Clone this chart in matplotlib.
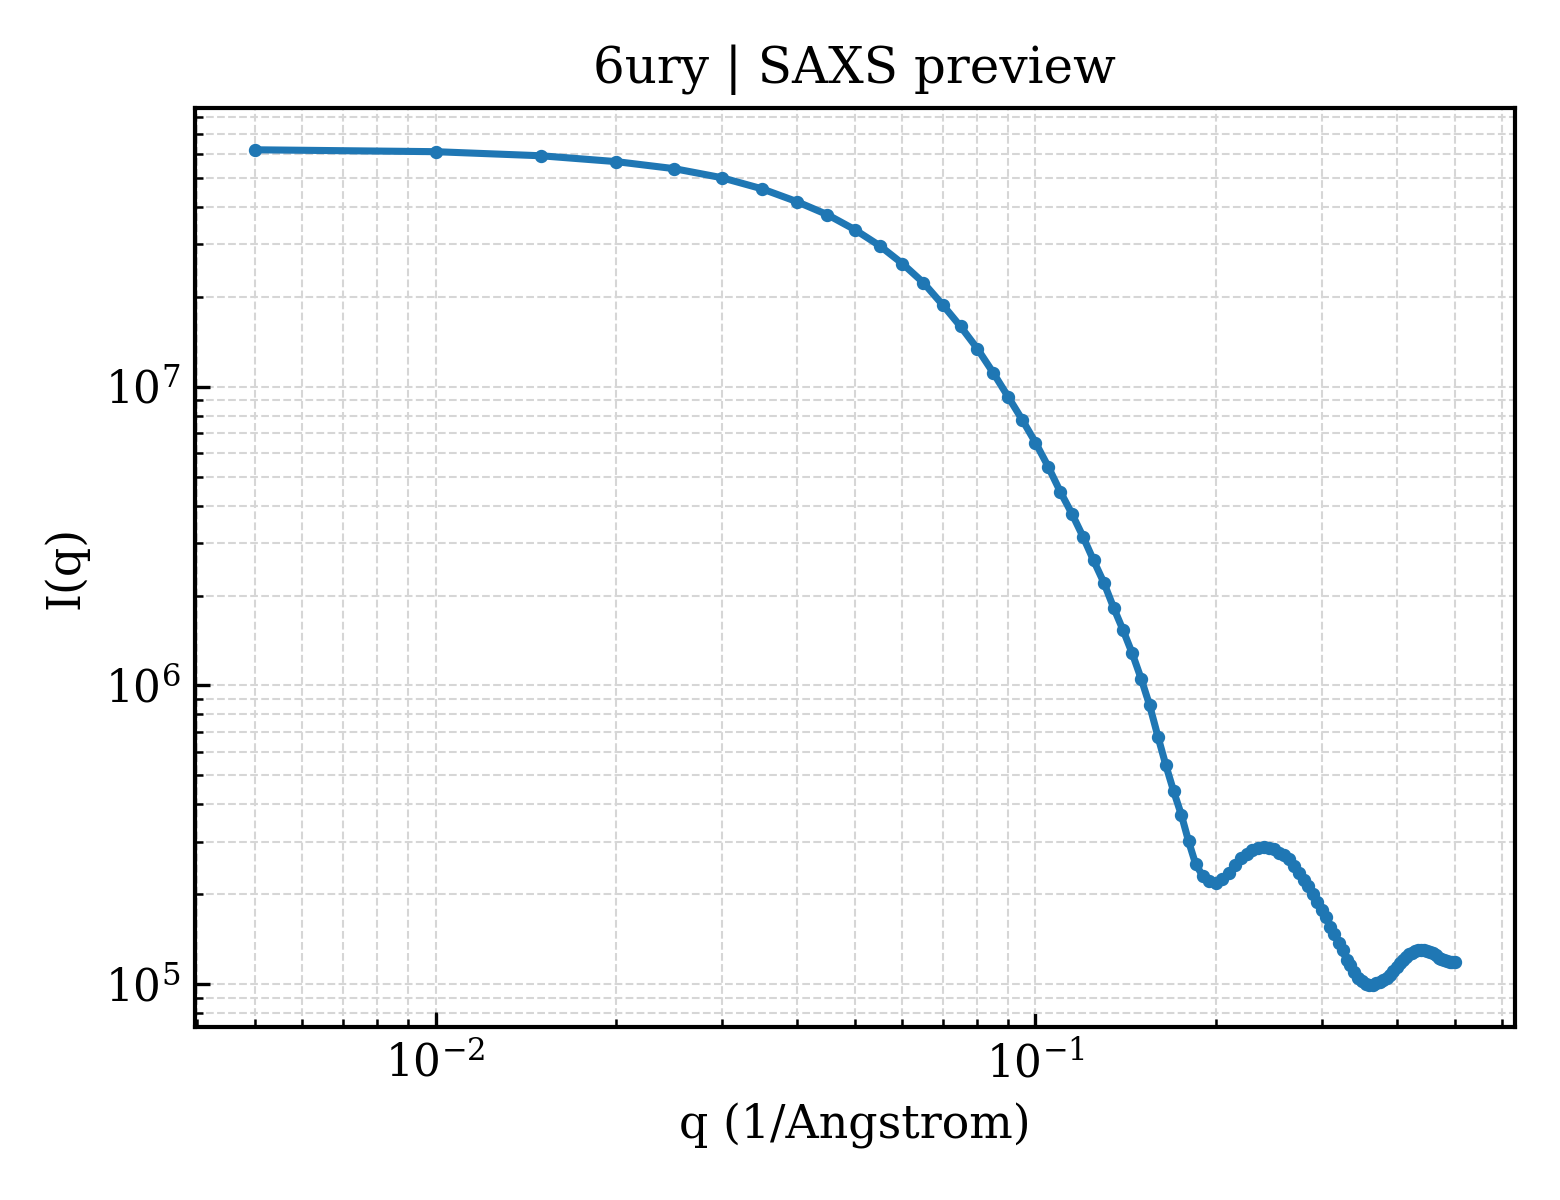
import numpy as np
import matplotlib
matplotlib.use("Agg")
import matplotlib.pyplot as plt

q = [0.005, 0.010, 0.015, 0.020, 0.025, 0.030, 0.035, 0.040, 0.045, 0.050,
     0.055, 0.060, 0.065, 0.070, 0.075, 0.080, 0.085, 0.090, 0.095, 0.100,
     0.105, 0.110, 0.115, 0.120, 0.125, 0.130, 0.135, 0.140, 0.145, 0.150,
     0.155, 0.160, 0.165, 0.170, 0.175, 0.180, 0.185, 0.190, 0.195, 0.200,
     0.205, 0.210, 0.215, 0.220, 0.225, 0.230, 0.235, 0.240, 0.245, 0.250,
     0.255, 0.260, 0.265, 0.270, 0.275, 0.280, 0.285, 0.290, 0.295, 0.300,
     0.305, 0.310, 0.315, 0.320, 0.325, 0.330, 0.335, 0.340, 0.345, 0.350,
     0.355, 0.360, 0.365, 0.370, 0.375, 0.380, 0.385, 0.390, 0.395, 0.400,
     0.405, 0.410, 0.415, 0.420, 0.425, 0.430, 0.435, 0.440, 0.445, 0.450,
     0.455, 0.460, 0.465, 0.470, 0.475, 0.480, 0.485, 0.490, 0.495, 0.500]

intensity = [6.20e7, 6.11e7, 5.92e7, 5.66e7, 5.36e7, 5.00e7, 4.59e7, 4.16e7, 3.76e7, 3.35e7,
             2.96e7, 2.58e7, 2.23e7, 1.88e7, 1.59e7, 1.34e7, 1.114e7, 9.26e6, 7.76e6, 6.50e6,
             5.40e6, 4.45e6, 3.76e6, 3.15e6, 2.62e6, 2.21e6, 1.82e6, 1.53e6, 1.28e6, 1.055e6,
             8.58e5, 6.75e5, 5.40e5, 4.42e5, 3.70e5, 3.01e5, 2.52e5, 2.31e5, 2.21e5, 2.19e5,
             2.26e5, 2.35e5, 2.50e5, 2.64e5, 2.72e5, 2.81e5, 2.87e5, 2.89e5, 2.87e5, 2.83e5,
             2.76e5, 2.70e5, 2.62e5, 2.48e5, 2.35e5, 2.24e5, 2.13e5, 2.00e5, 1.88e5, 1.77e5,
             1.68e5, 1.56e5, 1.47e5, 1.38e5, 1.30e5, 1.21e5, 1.16e5, 1.10e5, 1.047e5, 1.023e5,
             1.000e5, 0.992e5, 0.992e5, 1.008e5, 1.015e5, 1.031e5, 1.047e5, 1.072e5, 1.105e5, 1.14e5,
             1.176e5, 1.203e5, 1.231e5, 1.26e5, 1.27e5, 1.29e5, 1.30e5, 1.30e5, 1.30e5, 1.29e5,
             1.28e5, 1.27e5, 1.25e5, 1.23e5, 1.22e5, 1.21e5, 1.20e5, 1.19e5, 1.19e5, 1.185e5]

plt.rcParams['font.family'] = 'serif'
plt.rcParams['font.serif'] = ['DejaVu Serif']
plt.rcParams['mathtext.fontset'] = 'dejavuserif'

fig, ax = plt.subplots(figsize=(5.2, 4), dpi=300)
fig.subplots_adjust(left=0.125, right=0.971, top=0.91, bottom=0.144)

ax.plot(q, intensity, '-o', color='#1f77b4', lw=1.7, ms=2.2)
ax.set_xscale('log')
ax.set_yscale('log')

ax.set_title('6ury | SAXS preview', fontsize=12)
ax.set_xlabel('q (1/Angstrom)', fontsize=11)
ax.set_ylabel('I(q)', fontsize=11)

ax.grid(True, which='both', ls='--', lw=0.5, color='#d6d6d6')
ax.tick_params(which='both', direction='in', labelsize=10.5)
for s in ax.spines.values():
    s.set_linewidth(1.0)

fig.savefig('out.png', dpi=300)
